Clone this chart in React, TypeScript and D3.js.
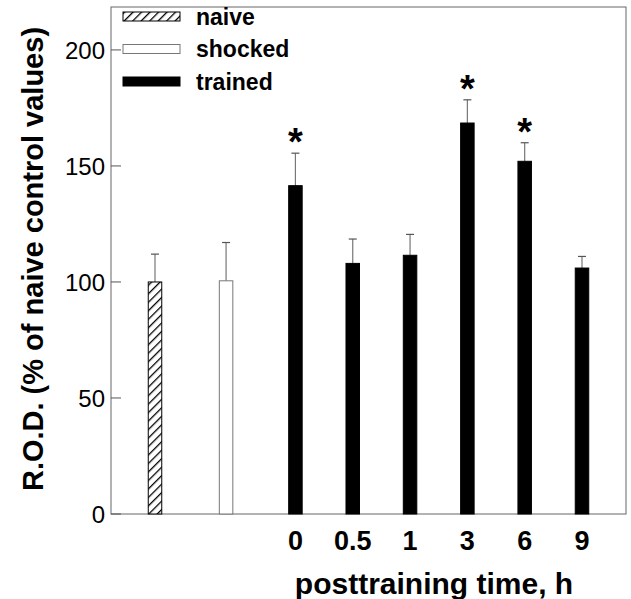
import React from 'react';
import * as d3 from 'd3';

// groups along the x axis, in drawing order
const groups = ['naive', 'shocked', '0', '0.5', '1', '3', '6', '9'];
const kinds = ['naive', 'shocked', 'trained', 'trained', 'trained', 'trained', 'trained', 'trained'];
const means = [100, 100.5, 141.5, 108, 111.5, 168.5, 152, 106];
const errors = [12, 16.5, 14, 10.5, 9, 10, 8, 5];
const significant = [false, false, true, false, false, true, true, false];
const yTicks = [0, 50, 100, 150, 200];
const legendItems = ['naive', 'shocked', 'trained'];

const W = 631;
const H = 599;
const frame = { left: 111, top: 7, right: 626, bottom: 514 };

// control bars sit apart from the time course
function slot(i: number) {
  if (i === 0) return 0;
  if (i === 1) return 1.24;
  return 2.45 + (i - 2);
}

function fillFor(kind: string) {
  if (kind === 'naive') return 'url(#hatch)';
  if (kind === 'shocked') return '#fff';
  return '#000';
}

export default function App() {
  const x = d3.scaleLinear().domain([0, slot(groups.length - 1)]).range([155, 582]);
  const y = d3.scaleLinear().domain([0, 218.5]).range([frame.bottom, frame.top]);
  const barW = 13.5;
  const capW = 8;
  const font = 'Arial, "Liberation Sans", Helvetica, sans-serif';

  return (
    <svg
      width={W}
      height={H}
      style={{ position: 'absolute', left: 0, top: 0, background: '#fff' }}
      fontFamily={font}
    >
      <defs>
        <pattern id="hatch" width="6" height="6" patternUnits="userSpaceOnUse" patternTransform="rotate(45)">
          <rect width="6" height="6" fill="#fff" />
          <line x1="0" y1="0" x2="0" y2="6" stroke="#000" strokeWidth="2.6" />
        </pattern>
      </defs>

      {/* frame */}
      <rect
        x={frame.left}
        y={frame.top}
        width={frame.right - frame.left}
        height={frame.bottom - frame.top}
        fill="none"
        stroke="#666"
        strokeWidth={1}
      />

      {/* y ticks */}
      {yTicks.map((t) => (
        <g key={t}>
          <line x1={frame.left} x2={frame.left + 10} y1={y(t)} y2={y(t)} stroke="#555" />
          <text x={105} y={y(t)} dy="0.36em" textAnchor="end" fontSize={24}>
            {t}
          </text>
        </g>
      ))}

      {/* bars */}
      {groups.map((g, i) => {
        const cx = x(slot(i));
        const top = y(means[i]);
        const cap = y(means[i] + errors[i]);
        return (
          <g key={g}>
            <line x1={cx} x2={cx} y1={top} y2={cap} stroke="#777" strokeWidth={1.2} />
            <line x1={cx - capW / 2} x2={cx + capW / 2} y1={cap} y2={cap} stroke="#555" strokeWidth={1.2} />
            <rect
              x={cx - barW / 2}
              y={top}
              width={barW}
              height={frame.bottom - top}
              fill={fillFor(kinds[i])}
              stroke={kinds[i] === 'shocked' ? '#777' : '#000'}
              strokeWidth={1}
            />
            {significant[i] && (
              <text x={cx} y={cap + 2} textAnchor="middle" fontSize={38} fontWeight="bold">
                *
              </text>
            )}
            {kinds[i] === 'trained' && (
              <text x={cx} y={550} textAnchor="middle" fontSize={27} fontWeight="bold">
                {g}
              </text>
            )}
          </g>
        );
      })}

      {/* legend */}
      {legendItems.map((k, i) => {
        const ly = 16.5 + i * 32.5;
        return (
          <g key={k}>
            <rect
              x={123}
              y={ly - 4.5}
              width={57}
              height={9}
              fill={fillFor(k)}
              stroke={k === 'shocked' ? '#777' : '#000'}
              strokeWidth={1}
            />
            <text x={196} y={ly} dy="0.36em" fontSize={23} fontWeight="bold">
              {k}
            </text>
          </g>
        );
      })}

      {/* axis titles */}
      <text x={434} y={594} textAnchor="middle" fontSize={30} fontWeight="bold">
        posttraining time, h
      </text>
      <text
        transform={`translate(43, 259) rotate(-90)`}
        textAnchor="middle"
        fontSize={29}
        fontWeight="bold"
      >
        R.O.D. (% of naive control values)
      </text>
    </svg>
  );
}
